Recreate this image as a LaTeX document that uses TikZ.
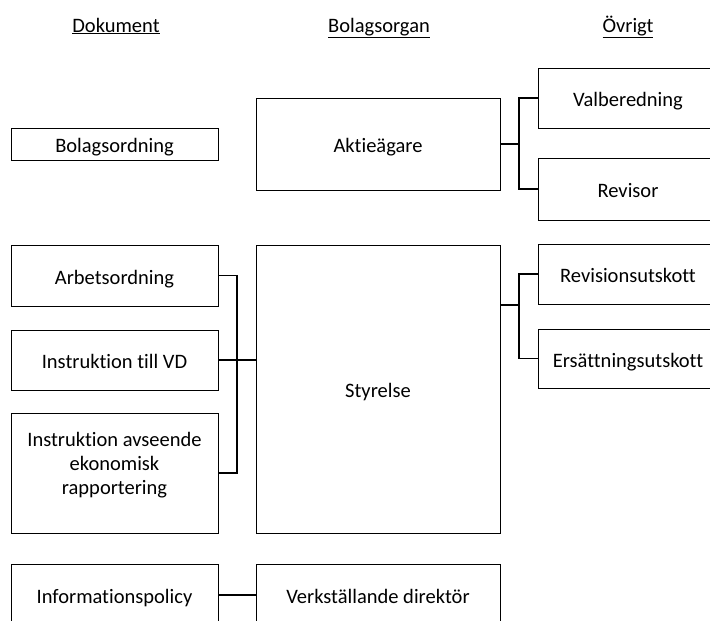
\documentclass[tikz,border=0pt]{standalone}
\usepackage{fontspec}
\setmainfont{Carlito}[Ligatures=NoCommon]
\usetikzlibrary{positioning}
\tikzset{font=\fontsize{20.5}{24}\selectfont}
\tikzstyle{frame}=[draw=black,line width=0.9pt,inner sep=2pt,align=center]
\tikzstyle{box}=[frame,text height=17pt,text depth=0pt]
\tikzstyle{docbox}=[box,minimum width=207pt]
\tikzstyle{orgbox}=[box,minimum width=244pt]
\tikzstyle{ovrbox}=[box,minimum width=180pt]
\tikzstyle{head}=[inner sep=0pt,anchor=base]
\tikzstyle{link}=[draw=black,line width=1.2pt]

\begin{document}
\begin{tikzpicture}[x=1pt,y=-1pt]
\useasboundingbox (0,0) rectangle (710,621);
% column heads
\node[head] (hdok) at (116,32) {\underline{Dokument}};
\node[head] (horg) at (379,32) {\underline{Bolagsorgan}};
\node[head] (hovr) at (628,32) {\underline{Övrigt}};
% documents
\node[docbox,minimum height=32pt] (bolagsordn) at (114.5,144) {Bolagsordning};
\node[docbox,minimum height=61pt] (arbets) at (114.5,275.5) {Arbetsordning};
\node[docbox,minimum height=60pt] (instrvd) at (114.5,360) {Instruktion till VD};
\node[frame,minimum width=207pt,minimum height=120pt] (instrek) at (114.5,473) {Instruktion avseende\\ekonomisk\\rapportering\\[-5pt]};
\node[docbox,minimum height=62pt] (infopol) at (114.5,595) {Informationspolicy};
% bodies
\node[orgbox,minimum height=92pt] (aktie) at (378,144) {Aktieägare};
\node[orgbox,minimum height=288pt] (styrelse) at (378,389) {Styrelse};
\node[orgbox,minimum height=62pt] (vd) at (378,595) {Verkställande direktör};
% other
\node[ovrbox,minimum height=60pt] (valb) at (628,98) {Valberedning};
\node[ovrbox,minimum height=62pt] (revisor) at (628,189) {Revisor};
\node[ovrbox,minimum height=60pt] (revut) at (628,274) {Revisionsutskott};
\node[ovrbox,minimum height=59pt] (ersut) at (628,358.5) {Ersättningsutskott};
% junctions
\coordinate (ja) at (519,144);
\coordinate (jb) at (237,360);
\coordinate (jc) at (519,305);
\draw[link] (aktie.east) -- (ja);
\draw[link] (valb.west) -| (ja) |- (revisor.west);
\draw[link] (arbets.east) -| (jb) |- (instrek.east);
\draw[link] (instrvd.east) -- (instrvd.east -| styrelse.west);
\draw[link] (styrelse.east |- jc) -- (jc);
\draw[link] (revut.west) -| (jc) |- (ersut.west);
\draw[link] (infopol) -- (vd);
\end{tikzpicture}
\end{document}
